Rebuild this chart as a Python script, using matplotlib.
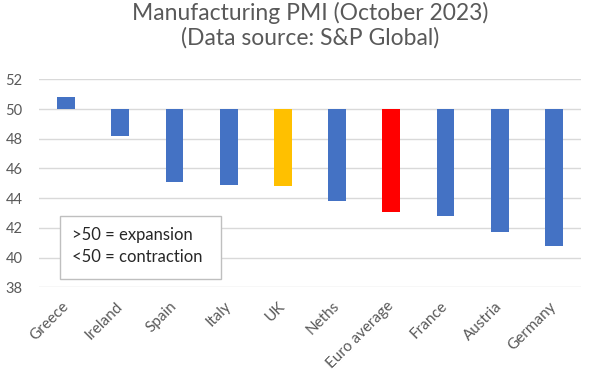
import matplotlib.pyplot as plt
from matplotlib.patches import Rectangle

plt.rcParams['font.family'] = ['Lato', 'DejaVu Sans']

countries = ["Greece", "Ireland", "Spain", "Italy", "UK", "Neths",
             "Euro average", "France", "Austria", "Germany"]
pmi = [50.8, 48.2, 45.1, 44.9, 44.8, 43.8, 43.1, 42.8, 41.7, 40.8]
colors = ["#4472C4"] * 4 + ["#FFC000", "#4472C4", "#FF0000"] + ["#4472C4"] * 3
yticks = [38, 40, 42, 44, 46, 48, 50, 52]

grey = "#595959"

fig = plt.figure(figsize=(5.9, 3.77), dpi=100)
ax = fig.add_axes([0.0661, 0.2379, 0.9186, 0.5518])

x = range(len(countries))
ax.bar(x, [v - 50 for v in pmi], bottom=50, width=0.33, color=colors, zorder=3)

ax.set_xlim(-0.5, len(countries) - 0.5)
ax.set_ylim(38, 52)
ax.set_yticks(yticks)
ax.set_yticklabels([str(t) for t in yticks], color=grey, fontsize=10.5)
ax.set_xticks(list(x))
ax.set_xticklabels(countries, rotation=45, ha="right", va="center",
                   rotation_mode="anchor", color=grey, fontsize=11)
ax.tick_params(axis="both", length=0)
ax.tick_params(axis="x", pad=12)
ax.tick_params(axis="y", pad=12)
ax.grid(axis="y", color="#D9D9D9", linewidth=1, zorder=0)
for s in ax.spines.values():
    s.set_visible(False)

fig.suptitle("Manufacturing PMI (October 2023)\n(Data source: S&P Global)",
             x=0.525, y=0.995, fontsize=16.5, color=grey, linespacing=1.2)

# note box
box = Rectangle((0.1017, 0.26), 0.273, 0.167, transform=fig.transFigure,
                facecolor="white", edgecolor="#BFBFBF", linewidth=1, zorder=5)
fig.add_artist(box)
fig.text(0.122, 0.377, ">50 = expansion", fontsize=12, color="#262626",
         va="center", zorder=6)
fig.text(0.122, 0.318, "<50 = contraction", fontsize=12, color="#262626",
         va="center", zorder=6)

fig.savefig("out.png", dpi=100)
